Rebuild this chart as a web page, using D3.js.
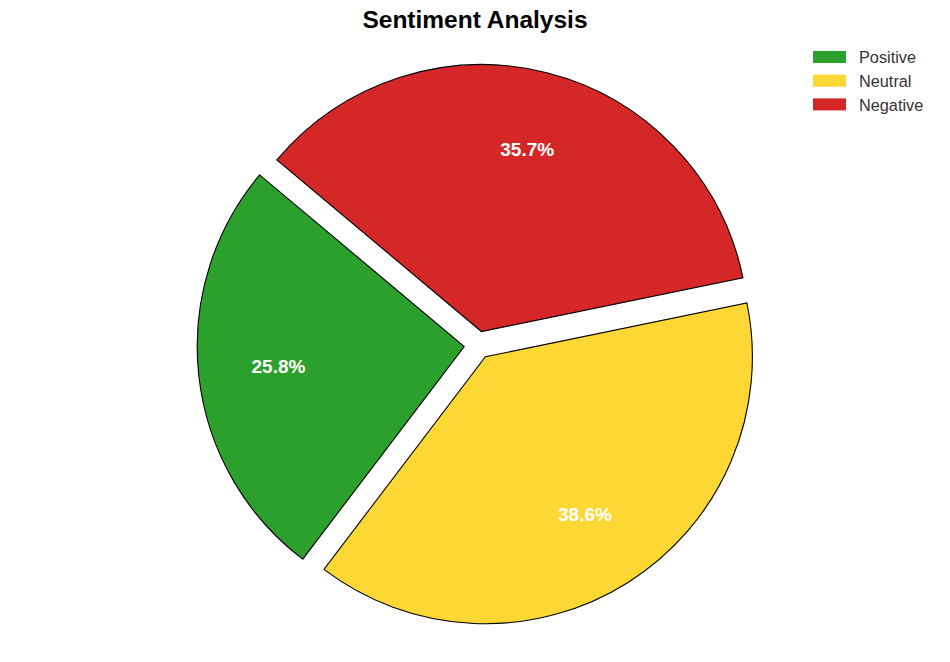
<!DOCTYPE html>
<html>
<head>
<meta charset="utf-8">
<script src="https://cdn.jsdelivr.net/npm/d3@7"></script>
<style>
  body { margin: 0; background: #fff; }
  svg { display: block; font-family: "Liberation Sans", Arial, sans-serif; }
</style>
</head>
<body>
<svg id="chart" width="950" height="662"></svg>
<script>
const categories = ["Positive", "Neutral", "Negative"];
const values = [25.8, 38.6, 35.7];
const colors = ["#2ca02c", "#fdd835", "#d62728"];
const title = "Sentiment Analysis";

const W = 950, H = 662;
const cx = 478, cy = 345, R = 267;
const explode = 0.052;
const pctDist = 0.7;
const startDeg = 140; // matplotlib-style start angle, counterclockwise

const svg = d3.select("#chart");

svg.append("text")
  .attr("x", 475).attr("y", 28)
  .attr("text-anchor", "middle")
  .attr("font-size", 24.5).attr("font-weight", "bold")
  .attr("fill", "#000")
  .text(title);

const a0 = (90 - startDeg) * Math.PI / 180;
const pie = d3.pie().sort(null).value(d => d.v)
  .startAngle(a0).endAngle(a0 - 2 * Math.PI);
const data = categories.map((c, i) => ({ c, v: values[i], col: colors[i] }));
const arcs = pie(data);
const arc = d3.arc().innerRadius(0).outerRadius(R);
const total = d3.sum(values);

const g = svg.append("g").attr("transform", `translate(${cx},${cy})`);
arcs.forEach(a => {
  const mid = (a.startAngle + a.endAngle) / 2;
  const ox = Math.sin(mid) * R * explode, oy = -Math.cos(mid) * R * explode;
  const sg = g.append("g").attr("transform", `translate(${ox},${oy})`);
  sg.append("path").attr("d", arc(a))
    .attr("fill", a.data.col).attr("stroke", "#000").attr("stroke-width", 1.1)
    .attr("stroke-linejoin", "miter");
  sg.append("text")
    .attr("x", Math.sin(mid) * R * pctDist)
    .attr("y", -Math.cos(mid) * R * pctDist)
    .attr("dy", "0.3em")
    .attr("text-anchor", "middle")
    .attr("font-size", 19).attr("font-weight", "bold")
    .attr("fill", "#fff")
    .text((a.data.v / total * 100).toFixed(1) + "%");
});

const lg = svg.append("g").attr("transform", "translate(813,51)");
categories.forEach((c, i) => {
  const row = lg.append("g").attr("transform", `translate(0,${i * 23.7})`);
  row.append("rect").attr("width", 33).attr("height", 12).attr("fill", colors[i]);
  row.append("text").attr("x", 46).attr("y", 6.5).attr("dy", "0.36em")
    .attr("font-size", 16.3).attr("fill", "#333").text(c);
});
</script>
</body>
</html>
